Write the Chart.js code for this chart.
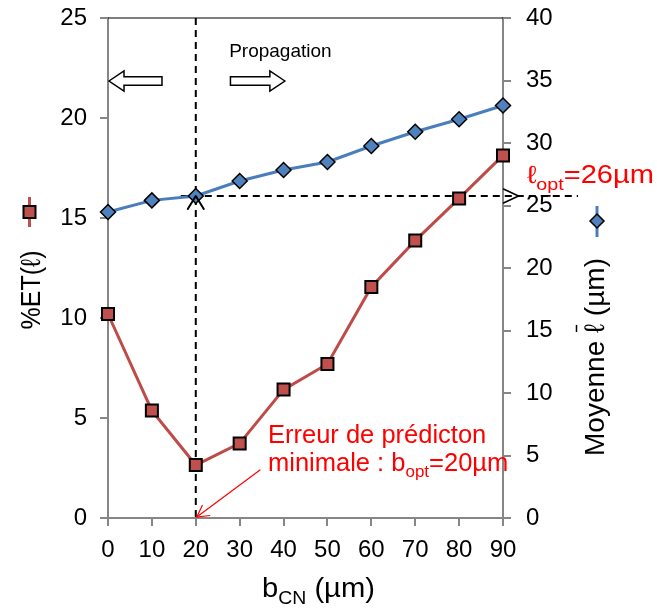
<!DOCTYPE html>
<html>
<head>
<meta charset="utf-8">
<script src="https://cdn.jsdelivr.net/npm/chart.js@4"></script>
<style>
html,body{margin:0;padding:0;background:#fff;}
#c{display:block;}
</style>
</head>
<body>
<canvas id="c" width="657" height="610"></canvas>
<script>
// ---- data ----
const xValues   = [0, 10, 20, 30, 40, 50, 60, 70, 80, 90];          // b_CN (µm)
const etValues  = [10.2, 5.37, 2.65, 3.73, 6.42, 7.7, 11.55, 13.87, 15.98, 18.13]; // %ET(ℓ), left axis
const moyValues = [24.48, 25.41, 25.76, 26.96, 27.84, 28.48, 29.76, 30.9, 31.9, 33.0]; // mean ℓ (µm), right axis
const xTicks = { min: 0, max: 90, step: 10 };
const yTicks = { min: 0, max: 25, step: 5 };
const y2Ticks = { min: 0, max: 40, step: 5 };
const bOpt = 20;                       // optimal b (µm)
const lOptLine = moyValues[xValues.indexOf(bOpt)]; // mean ℓ at b_opt
const FONT = '"Liberation Sans", Arial, sans-serif';

function richText(ctx, parts, x, y, align, sx) {
  sx = sx || 1;
  let total = 0;
  parts.forEach(p => { ctx.font = p.size + 'px ' + FONT; p.w = ctx.measureText(p.t).width; total += p.w; });
  let cx = align === 'center' ? -total / 2 : 0;
  ctx.save();
  ctx.translate(x, y); ctx.scale(sx, 1);
  ctx.textAlign = 'left';
  parts.forEach(p => {
    ctx.font = p.size + 'px ' + FONT;
    ctx.fillText(p.t, cx, (p.dy || 0));
    p.x = cx;
    cx += p.w;
  });
  ctx.restore();
  return parts;
}

const annot = {
  id: 'annot',
  beforeDatasetsDraw(chart) {
    const ctx = chart.ctx, a = chart.chartArea;
    const xs = chart.scales.x, y2 = chart.scales.y2;
    const xb = xs.getPixelForValue(bOpt);
    const yl = y2.getPixelForValue(lOptLine);
    ctx.save();
    ctx.strokeStyle = '#000'; ctx.lineWidth = 1.2;
    ctx.beginPath(); ctx.moveTo(a.left, a.top); ctx.lineTo(a.right, a.top); ctx.stroke();
    ctx.setLineDash([7, 5]); ctx.lineWidth = 2;
    ctx.beginPath(); ctx.moveTo(xb, a.top); ctx.lineTo(xb, a.bottom); ctx.stroke();
    ctx.beginPath(); ctx.moveTo(xb - 15, yl); ctx.lineTo(a.right + 75, yl); ctx.stroke();
    ctx.restore();
  },
  afterDatasetsDraw(chart) {
    const ctx = chart.ctx, a = chart.chartArea;
    const xs = chart.scales.x, ys = chart.scales.y, y2 = chart.scales.y2;
    const xb = xs.getPixelForValue(bOpt);
    const yl = y2.getPixelForValue(lOptLine);
    ctx.save();
    ctx.strokeStyle = '#000'; ctx.lineCap = 'round'; ctx.lineJoin = 'round';
    ctx.lineWidth = 2;
    ctx.beginPath(); ctx.moveTo(xb - 8, yl + 13); ctx.lineTo(xb, yl); ctx.lineTo(xb + 8, yl + 13); ctx.stroke();
    ctx.lineWidth = 1.5;
    ctx.beginPath(); ctx.moveTo(a.right + 0.5, yl - 7); ctx.lineTo(a.right + 15.5, yl); ctx.lineTo(a.right + 0.5, yl + 7); ctx.stroke();

    const ay = ys.getPixelForValue(21.85);
    function blockArrow(tipX, tailX) {
      const dir = Math.sign(tailX - tipX);
      const hx = tipX + dir * 15;
      ctx.beginPath();
      ctx.moveTo(tipX, ay);
      ctx.lineTo(hx, ay - 10);
      ctx.lineTo(hx, ay - 4.3);
      ctx.lineTo(tailX, ay - 4.3);
      ctx.lineTo(tailX, ay + 4.3);
      ctx.lineTo(hx, ay + 4.3);
      ctx.lineTo(hx, ay + 10);
      ctx.closePath();
      ctx.fillStyle = '#fff'; ctx.fill();
      ctx.lineWidth = 1.5; ctx.strokeStyle = '#000'; ctx.lineJoin = 'miter'; ctx.stroke();
    }
    blockArrow(a.left + 1, xs.getPixelForValue(12.3));
    blockArrow(xs.getPixelForValue(40.3), xs.getPixelForValue(27.9));

    ctx.fillStyle = '#000'; ctx.textBaseline = 'alphabetic';
    ctx.font = '19px ' + FONT; ctx.textAlign = 'left';
    ctx.fillText('Propagation', xs.getPixelForValue(27.6), a.top + 39);

    ctx.fillStyle = '#FF0000';
    richText(ctx, [{t: 'ℓ', size: 25}, {t: 'opt', size: 17, dy: 7}, {t: '=26µm', size: 25}], a.right + 24, 183, 'left', 1.16);
    ctx.font = '25.5px ' + FONT;
    ctx.fillText('Erreur de prédicton', 268, 443);
    richText(ctx, [{t: 'minimale : b', size: 25.5}, {t: 'opt', size: 17, dy: 6}, {t: '=20µm', size: 25.5}], 268, 471, 'left');
    const tipY = a.bottom - 1;
    ctx.strokeStyle = '#FF0000'; ctx.lineWidth = 1.2;
    ctx.beginPath(); ctx.moveTo(260, 470); ctx.lineTo(xb + 1, tipY); ctx.stroke();
    ctx.beginPath(); ctx.moveTo(xb + 6.5, tipY - 11.5); ctx.lineTo(xb + 1, tipY); ctx.lineTo(xb + 14, tipY - 1.5); ctx.stroke();

    ctx.fillStyle = '#000';
    richText(ctx, [{t: 'b', size: 27}, {t: 'CN', size: 18, dy: 7}, {t: ' (µm)', size: 27}], 262, 597, 'left', 1.08);

    ctx.save();
    ctx.translate(40, 290); ctx.rotate(-Math.PI / 2);
    ctx.font = '25px ' + FONT; ctx.textAlign = 'center'; ctx.textBaseline = 'alphabetic';
    ctx.scale(1, 1.1);
    ctx.fillText('%ET(ℓ)', 0, 0);
    ctx.restore();
    ctx.strokeStyle = '#C0504D'; ctx.lineWidth = 3; ctx.lineCap = 'butt';
    ctx.beginPath(); ctx.moveTo(29.5, 197); ctx.lineTo(29.5, 227); ctx.stroke();
    ctx.fillStyle = '#C0504D'; ctx.fillRect(23.5, 206, 12, 12);
    ctx.strokeStyle = '#000'; ctx.lineWidth = 2; ctx.strokeRect(23.5, 206, 12, 12);

    ctx.save();
    ctx.translate(604, 357); ctx.rotate(-Math.PI / 2);
    ctx.fillStyle = '#000'; ctx.textBaseline = 'alphabetic';
    const parts = richText(ctx, [{t: 'Moyenne ', size: 28}, {t: 'ℓ', size: 28}, {t: ' (µm)', size: 28}], 0, 0, 'center');
    const lp = parts[1];
    ctx.strokeStyle = '#000'; ctx.lineWidth = 1.5;
    ctx.beginPath(); ctx.moveTo(lp.x + 1, -27.5); ctx.lineTo(lp.x + lp.w - 1, -27.5); ctx.stroke();
    ctx.restore();
    ctx.strokeStyle = '#4A7EBB'; ctx.lineWidth = 3;
    ctx.beginPath(); ctx.moveTo(597, 206); ctx.lineTo(597, 237); ctx.stroke();
    ctx.beginPath(); ctx.moveTo(597, 214); ctx.lineTo(604, 221); ctx.lineTo(597, 228); ctx.lineTo(590, 221); ctx.closePath();
    ctx.fillStyle = '#4F81BD'; ctx.fill(); ctx.strokeStyle = '#000'; ctx.lineWidth = 1.5; ctx.stroke();
    ctx.restore();
  }
};

const tickFont = { family: FONT, size: 24 };
const axisGray = '#868686';
const noPad = s => { s.paddingTop = 0; s.paddingBottom = 0; };

new Chart(document.getElementById('c'), {
  type: 'line',
  data: {
    datasets: [
      {
        label: '%ET(ℓ)',
        data: xValues.map((x, i) => ({ x, y: etValues[i] })),
        yAxisID: 'y',
        borderColor: '#BE4B48', borderWidth: 3,
        pointStyle: 'rect', pointRadius: 8.5,
        pointBackgroundColor: '#C0504D', pointBorderColor: '#000', pointBorderWidth: 2,
        tension: 0, clip: false
      },
      {
        label: 'Moyenne ℓ (µm)',
        data: xValues.map((x, i) => ({ x, y: moyValues[i] })),
        yAxisID: 'y2',
        borderColor: '#4A7EBB', borderWidth: 3,
        pointStyle: 'rectRot', pointRadius: 7.5,
        pointBackgroundColor: '#4F81BD', pointBorderColor: '#000', pointBorderWidth: 1.5,
        tension: 0, clip: false
      }
    ]
  },
  options: {
    responsive: false,
    animation: false,
    layout: { padding: { top: 18, left: 0, right: 0, bottom: 0 } },
    plugins: { legend: { display: false }, tooltip: { enabled: false } },
    scales: {
      x: {
        type: 'linear', min: xTicks.min, max: xTicks.max,
        ticks: { stepSize: xTicks.step, font: tickFont, color: '#000', padding: 10, maxRotation: 0 },
        grid: { drawOnChartArea: false, tickLength: 8, color: axisGray, lineWidth: 2 },
        border: { color: axisGray, width: 2 },
        afterFit: s => { s.height = 92; s.paddingLeft = 0; s.paddingRight = 0; }
      },
      y: {
        position: 'left', min: yTicks.min, max: yTicks.max,
        ticks: { stepSize: yTicks.step, font: tickFont, color: '#000', padding: 13 },
        grid: { drawOnChartArea: false, tickLength: 8, color: axisGray, lineWidth: 2 },
        border: { color: axisGray, width: 2 },
        afterFit: s => { s.width = 108; noPad(s); }
      },
      y2: {
        position: 'right', min: y2Ticks.min, max: y2Ticks.max,
        ticks: { stepSize: y2Ticks.step, font: tickFont, color: '#000', padding: 15 },
        grid: { drawOnChartArea: false, tickLength: 8, color: axisGray, lineWidth: 2 },
        border: { color: axisGray, width: 2 },
        afterFit: s => { s.width = 154; noPad(s); }
      }
    }
  },
  plugins: [annot]
});
</script>
</body>
</html>
